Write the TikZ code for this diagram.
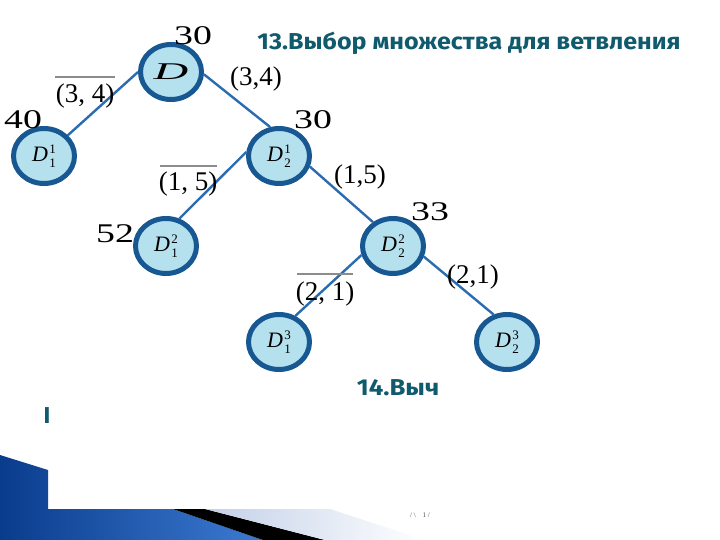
\documentclass[tikz,border=0pt]{standalone}
\usepackage{fontspec}
\setmainfont{Liberation Serif}
\newfontfamily\titlefont{Fira Sans}
\usetikzlibrary{shapes.geometric}
\definecolor{nodefill}{HTML}{B5E0EE}
\definecolor{nodeline}{HTML}{185892}
\definecolor{edgeblue}{HTML}{2B6CB0}
\definecolor{titleteal}{HTML}{105A6E}
\definecolor{ovgray}{HTML}{8C8C8C}
\definecolor{darkblue}{HTML}{0A3C8C}
\definecolor{lightblue}{HTML}{3C7AD2}
\definecolor{palegray}{HTML}{C2D0E8}
\newcommand{\Dl}[2]{\fontsize{22}{22}\selectfont\textit{D}\kern1.5pt\rlap{\raisebox{8pt}{\fontsize{13}{13}\selectfont #1}}\raisebox{-6pt}{\fontsize{13}{13}\selectfont #2}}
\newcommand{\bignum}[1]{\scalebox{1.4}[1]{\fontsize{27}{27}\selectfont #1}}
\begin{document}
\begin{tikzpicture}[x=1pt,y=-1pt,
  treenode/.style={ellipse,draw=nodeline,line width=5pt,fill=nodefill,minimum width=61pt,minimum height=55pt,inner sep=0pt},
  edge/.style={draw=edgeblue,line width=2.4pt},
  numlabel/.style={inner sep=0pt,text=black},
  edgelabel/.style={inner sep=0pt,font=\fontsize{27}{27}\selectfont},
  overbar/.style={draw=ovgray,line width=1.8pt},
  titletext/.style={inner sep=0pt,text=titleteal,font=\titlefont\bfseries\fontsize{23}{23}\selectfont}]
\useasboundingbox (0,0) rectangle (720,540);
\fill[white] (0,0) rectangle (720,540);

% bottom decoration
\shade[left color=darkblue, right color=lightblue] (0,455) -- (48,470) -- (48,509) -- (173,509) -- (263,540) -- (0,540) -- cycle;
\fill[black] (173,509) -- (205,509) -- (325,540) -- (263,540) -- cycle;
\shade[left color=palegray, right color=white] (205,509) -- (330,509) -- (425,540) -- (325,540) -- cycle;

% titles
\node[titletext] (title13) at (469,43) {\scalebox{1.09}[1]{13.Выбор множества для ветвления}};
\node[titletext] (title14) at (398,388) {\scalebox{1.12}[1]{14.Выч}};
\node[titletext] (bar) at (47,416) {I};
\node[inner sep=0pt,font=\fontsize{7}{7}\selectfont,text=black!70] (foot) at (420,515) {/ \textbackslash\quad 1 /};

% tree nodes
\node[treenode] (D) at (171,72) {\scalebox{2}[1]{\fontsize{24}{24}\selectfont\textit{D}}};
\node[treenode] (D11) at (44,156) {\Dl{1}{1}};
\node[treenode] (D21) at (279,156) {\Dl{1}{2}};
\node[treenode] (D12) at (166,246) {\Dl{2}{1}};
\node[treenode] (D22) at (393,246) {\Dl{2}{2}};
\node[treenode] (D13) at (279,342) {\Dl{3}{1}};
\node[treenode] (D23) at (507,342) {\Dl{3}{2}};

\draw[edge] (D.180) -- (D11.41);
\draw[edge] (D.-4) -- (D21.107);
\draw[edge] (D21.173) -- (D12.64);
\draw[edge] (D21.-19) -- (D22.130);
\draw[edge] (D22.196) -- (D13.58);
\draw[edge] (D22.-19) -- (D23.116);

% bound numbers
\node[numlabel] (n30a) at (193,36) {\bignum{30}};
\node[numlabel] (n40) at (23,120) {\bignum{40}};
\node[numlabel] (n30b) at (313,120) {\bignum{30}};
\node[numlabel] (n52) at (115,234) {\bignum{52}};
\node[numlabel] (n33) at (430,212) {\bignum{33}};

% edge labels
\node[edgelabel] (l34a) at (85,96) {(3, 4)};
\coordinate (o34a) at (55,77); \coordinate (o34b) at (115,77);
\draw[overbar] (o34a) -- (o34b);
\node[edgelabel] (l34b) at (256,79) {(3,4)};
\node[edgelabel] (l15a) at (188,184) {(1, 5)};
\coordinate (o15a) at (160,166); \coordinate (o15b) at (217,166);
\draw[overbar] (o15a) -- (o15b);
\node[edgelabel] (l15b) at (360,177) {(1,5)};
\node[edgelabel] (l21a) at (325,294) {(2, 1)};
\coordinate (o21a) at (297,274); \coordinate (o21b) at (353,274);
\draw[overbar] (o21a) -- (o21b);
\node[edgelabel] (l21b) at (473,277) {(2,1)};
\end{tikzpicture}
\end{document}
